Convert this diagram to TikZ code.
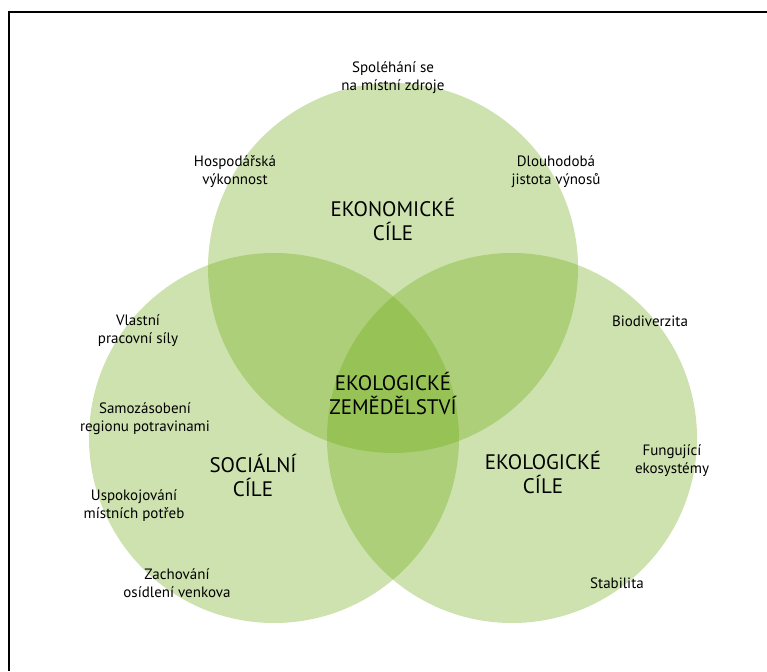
\documentclass[tikz,border=0pt]{standalone}
\usepackage{fontspec}
\setmainfont{PT Sans}
\usepackage{tikz}

\definecolor{leafgreen}{RGB}{112,172,22}

\begin{document}
\begin{tikzpicture}[x=1pt,y=-1pt,
		goal/.style={fill=leafgreen, fill opacity=0.35, draw=none},
		aim/.style={align=center, font=\fontsize{15}{18}\selectfont, inner sep=0pt},
		title/.style={align=center, font=\fontsize{21}{24}\selectfont, inner sep=0pt}]
		\useasboundingbox (0,0) rectangle (767,671);
		% frame
		\draw [black, line width=2pt, line join=miter] (767,12) -- (9,12) -- (9,671);

            % circles
            \fill [goal] (393,268) circle [radius=185pt];
            \fill [goal] (274,438) circle [radius=185pt];
            \fill [goal] (512,438) circle [radius=185pt];

            % top
            \node [aim] (zdroje) at (393,78) {Spoléhání se\\na místní zdroje};
            \node [aim] (vykon) at (235,172) {Hospodářská\\výkonnost};
            \node [aim] (jistota) at (556,172) {Dlouhodobá\\jistota výnosů};
            \node [title] (ekon) at (393,219) {EKONOMICKÉ\\CÍLE};

            % left
            \node [aim] (sily) at (138,331) {Vlastní\\pracovní síly};
            \node [aim] (zasob) at (145,419) {Samozásobení\\regionu potravinami};
            \node [aim] (potreby) at (134,506) {Uspokojování\\místních potřeb};
            \node [aim] (venkov) at (177,583) {Zachování\\osídlení venkova};
            \node [title] (soc) at (253,475) {SOCIÁLNÍ\\CÍLE};

            % right
            \node [aim] (bio) at (650,321) {Biodiverzita};
            \node [aim] (ekosys) at (672,461) {Fungující\\ekosystémy};
            \node [aim] (stab) at (617,583) {Stabilita};
            \node [title] (ekol) at (543,472) {EKOLOGICKÉ\\CÍLE};

            % centre
            \node [title] (zem) at (393,393) {EKOLOGICKÉ\\ZEMĚDĚLSTVÍ};
\end{tikzpicture}
\end{document}
